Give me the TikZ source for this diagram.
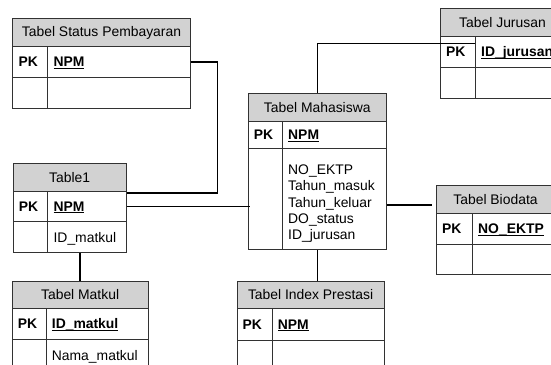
\documentclass[tikz,border=0pt]{standalone}
\usepackage{fontspec}
\setmainfont{Liberation Sans}
\definecolor{titlegray}{RGB}{210,210,210}
\definecolor{rulegray}{RGB}{50,50,50}

% bold key field with a flat underline
\newcommand\pkfield[1]{\setbox0\hbox{\bfseries #1}\rlap{\copy0}\rule[-2.4pt]{\wd0}{1.3pt}}

% table: #1 name, #2 left, #3 right, #4 top, #5 head bottom,
% #6 key row bottom, #7 bottom, #8 column divider, #9 title
\newcommand\ertable[9]{%
  \node[headcell, minimum width={(#3-#2)*1pt}, minimum height={(#5-#4)*1pt}] (#1-head) at (#2,#4) {#9};
  \node[cell, minimum width={(#8-#2)*1pt}, minimum height={(#6-#5)*1pt}] (#1-pk) at (#2,#5) {};
  \node[cell, minimum width={(#3-#8)*1pt}, minimum height={(#6-#5)*1pt}] (#1-key) at (#8,#5) {};
  \node[cell, minimum width={(#8-#2)*1pt}, minimum height={(#7-#6)*1pt}] (#1-gap) at (#2,#6) {};
  \node[cell, minimum width={(#3-#8)*1pt}, minimum height={(#7-#6)*1pt}] (#1-body) at (#8,#6) {};
  \node[txt, font=\erfont\bfseries] (#1-pklabel) at ([shift={(6pt,-4.5pt)}]#1-pk.west) {PK};
}
\newcommand\erfont{\fontsize{13.9}{16.3}\selectfont}

\begin{document}
\begin{tikzpicture}[x=1pt,y=-1pt,
  cell/.style={draw=rulegray, line width=1pt, inner sep=0pt, anchor=north west},
  headcell/.style={cell, fill=titlegray, font=\erfont},
  txt/.style={inner sep=0pt, anchor=base west, font=\erfont},
  link/.style={draw=black, line width=1.4pt}]
\useasboundingbox (0,0) rectangle (551,364);

% tables
\ertable{sp}{12.3}{189.7}{18.3}{46}{77}{108}{47.4}{Tabel Status Pembayaran}
\ertable{ju}{440}{564}{8}{36}{67}{98}{475}{Tabel Jurusan}
\ertable{ma}{247.7}{385.8}{92.7}{120.7}{148.3}{249.3}{282}{Tabel Mahasiswa}
\ertable{bi}{436}{554}{185}{213}{244}{274}{472}{Tabel Biodata}
\ertable{tb}{12.6}{125.8}{163}{191}{221}{252}{47.4}{Table1}
\ertable{mk}{11.6}{147.6}{281}{308}{339}{380}{45.7}{Tabel Matkul}
\ertable{ip}{236.5}{383.7}{281}{308}{340}{380}{271.6}{Tabel Index Prestasi}

% key fields
\node[txt] (sp-keylabel) at ([shift={(6pt,-4.5pt)}]sp-key.west) {\pkfield{NPM}};
\node[txt] (ju-keylabel) at ([shift={(6pt,-4.5pt)}]ju-key.west) {\pkfield{ID\_jurusan}};
\node[txt] (ma-keylabel) at ([shift={(6pt,-4.5pt)}]ma-key.west) {\pkfield{NPM}};
\node[txt] (bi-keylabel) at ([shift={(6pt,-4.5pt)}]bi-key.west) {\pkfield{NO\_EKTP}};
\node[txt] (tb-keylabel) at ([shift={(6pt,-4.5pt)}]tb-key.west) {\pkfield{NPM}};
\node[txt] (mk-keylabel) at ([shift={(6pt,-4.5pt)}]mk-key.west) {\pkfield{ID\_matkul}};
\node[txt] (ip-keylabel) at ([shift={(6pt,-4.5pt)}]ip-key.west) {\pkfield{NPM}};

% other fields
\node[txt] (tb-f1) at ([shift={(6pt,-21.5pt)}]tb-body.north west) {ID\_matkul};
\node[txt] (mk-f1) at ([shift={(6pt,-21.5pt)}]mk-body.north west) {Nama\_matkul};
\node[txt] (ma-f1) at ([shift={(6pt,-26.2pt)}]ma-body.north west) {NO\_EKTP};
\node[txt] (ma-f2) at ([shift={(6pt,-42.5pt)}]ma-body.north west) {Tahun\_masuk};
\node[txt] (ma-f3) at ([shift={(6pt,-58.8pt)}]ma-body.north west) {Tahun\_keluar};
\node[txt] (ma-f4) at ([shift={(6pt,-75.1pt)}]ma-body.north west) {DO\_status};
\node[txt] (ma-f5) at ([shift={(6pt,-91.4pt)}]ma-body.north west) {ID\_jurusan};

% relationships
\draw[link] (sp-key.east) -- ++(26.5,0) |- ([yshift=-2pt]tb-key.north east);
\draw[link] (tb-key.east) -- ([xshift=2pt]tb-key.east -| ma-gap.west);
\draw[link] ([yshift=-5.5pt]ma-body.east) -- ([yshift=-5.5pt,xshift=-4pt]ma-body.east -| bi-head.west);
\draw[link] (ma-head.north) |- ([yshift=8.5pt]ju-key.west);
\draw[link] (ma-head.north |- ma-gap.south) -- (ma-head.north |- ip-head.north);
\draw[link] (mk-head.north) -- (mk-head.north |- tb-gap.south);
\end{tikzpicture}
\end{document}
